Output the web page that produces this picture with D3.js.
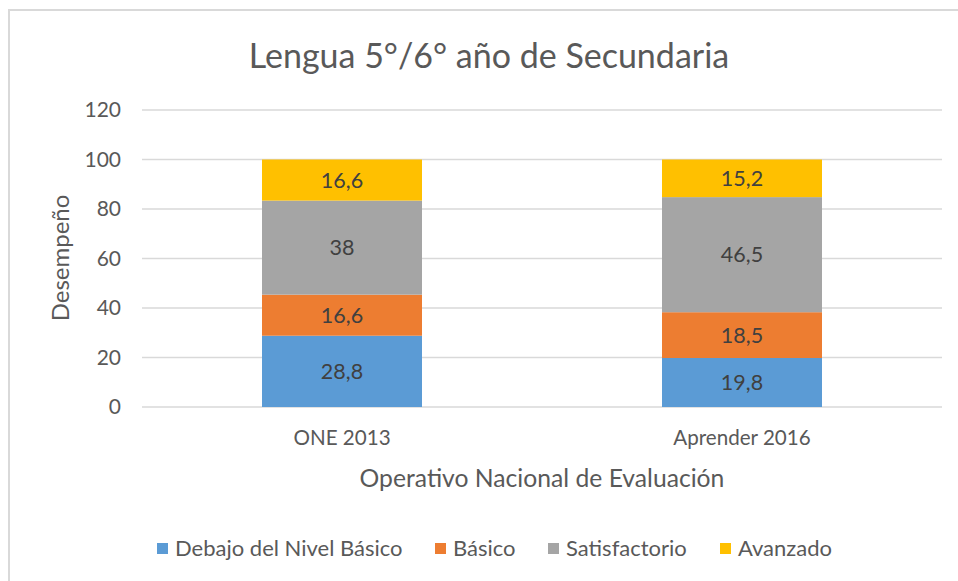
<!DOCTYPE html>
<html>
<head>
<meta charset="utf-8">
<script src="https://cdn.jsdelivr.net/npm/d3@7"></script>
<style>
  body { margin: 0; background: #fff; }
  text { font-family: Lato, "Open Sans", sans-serif; }
</style>
</head>
<body>
<svg id="chart" width="958" height="581"></svg>
<script>
// Data
const categories = ['ONE 2013', 'Aprender 2016'];
const seriesNames = ['Debajo del Nivel Básico', 'Básico', 'Satisfactorio', 'Avanzado'];
const seriesColors = ['#5b9bd5', '#ed7d31', '#a5a5a5', '#ffc000'];
const debajo = [28.8, 19.8];
const basico = [16.6, 18.5];
const satisfactorio = [38, 46.5];
const avanzado = [16.6, 15.2];
const yTicks = [0, 20, 40, 60, 80, 100, 120];

const textColor = '#595959';
const gridColor = '#d9d9d9';

let svg = d3.select('#chart');

svg.append('rect')
  .attr('width', 958).attr('height', 581)
  .style('fill', '#fff');

// chart frame (only top and left edges are visible)
svg.append('path')
  .attr('d', 'M9,581V10H958')
  .style('fill', 'none')
  .style('stroke', gridColor)
  .style('stroke-width', 2);

let rows = categories.map((c, i) => ({
  cat: c,
  s0: debajo[i], s1: basico[i], s2: satisfactorio[i], s3: avanzado[i]
}));
let stack = d3.stack().keys(['s0', 's1', 's2', 's3'])(rows);

let x = d3.scaleBand()
  .domain(categories)
  .range([142, 942])
  .paddingInner(0.6)
  .paddingOuter(0.3);

let y = d3.scaleLinear()
  .domain([0, 120])
  .range([407, 110]);

// Title
svg.append('text')
  .attr('x', 489).attr('y', 68)
  .attr('text-anchor', 'middle')
  .style('font-size', '34px')
  .style('fill', textColor)
  .text('Lengua 5°/6° año de Secundaria');

// Gridlines
svg.append('g')
  .selectAll('line')
  .data(yTicks)
  .join('line')
  .attr('x1', 142).attr('x2', 942)
  .attr('y1', d => y(d)).attr('y2', d => y(d))
  .style('stroke', gridColor)
  .style('stroke-width', 1.3);

// Y axis labels
let yAxis = d3.axisLeft(y)
  .tickValues(yTicks)
  .tickSize(0)
  .tickPadding(0);

let yAxisGroup = svg.append('g')
  .attr('transform', 'translate(121,0)')
  .call(yAxis);
yAxisGroup.select('.domain').remove();
yAxisGroup.selectAll('text')
  .style('font-family', 'Lato, sans-serif')
  .style('font-size', '21px')
  .style('fill', textColor);

// X axis labels
let xAxis = d3.axisBottom(x).tickSize(0).tickPadding(0);
let xAxisGroup = svg.append('g')
  .attr('transform', 'translate(0,430)')
  .call(xAxis);
xAxisGroup.select('.domain').remove();
xAxisGroup.selectAll('text')
  .style('font-family', 'Lato, sans-serif')
  .style('font-size', '20.6px')
  .style('fill', textColor);

// Axis titles
svg.append('text')
  .attr('transform', 'translate(69,258) rotate(-90)')
  .attr('text-anchor', 'middle')
  .style('font-size', '24px')
  .style('fill', textColor)
  .text('Desempeño');

svg.append('text')
  .attr('x', 542).attr('y', 487)
  .attr('text-anchor', 'middle')
  .style('font-size', '24.7px')
  .style('fill', textColor)
  .text('Operativo Nacional de Evaluación');

// Bars
let layers = svg.append('g')
  .selectAll('g.layer')
  .data(stack)
  .join('g')
  .attr('class', 'layer')
  .style('fill', (d, i) => seriesColors[i]);

layers.selectAll('rect')
  .data(d => d)
  .join('rect')
  .attr('x', d => x(d.data.cat))
  .attr('width', x.bandwidth())
  .attr('y', d => y(d[1]))
  .attr('height', d => y(d[0]) - y(d[1]));

// Data labels
let fmt = v => String(v).replace('.', ',');
layers.selectAll('text')
  .data(d => d.map(v => ({v: v, key: d.key})))
  .join('text')
  .attr('x', d => x(d.v.data.cat) + x.bandwidth() / 2)
  .attr('y', d => y((d.v[0] + d.v[1]) / 2))
  .attr('dy', '0.36em')
  .attr('text-anchor', 'middle')
  .style('font-size', '21.5px')
  .style('fill', '#404040')
  .text(d => fmt(d.v.data[d.key]));

// Legend
let legendX = [157, 435, 548, 720];
let legend = svg.append('g')
  .selectAll('g')
  .data(seriesNames)
  .join('g')
  .attr('transform', (d, i) => `translate(${legendX[i]},548)`);

legend.append('rect')
  .attr('x', 0).attr('y', -5)
  .attr('width', 11).attr('height', 11)
  .style('fill', (d, i) => seriesColors[i]);

legend.append('text')
  .attr('x', 18).attr('dy', '0.36em')
  .style('font-size', '22px')
  .style('fill', textColor)
  .text(d => d);
</script>
</body>
</html>
